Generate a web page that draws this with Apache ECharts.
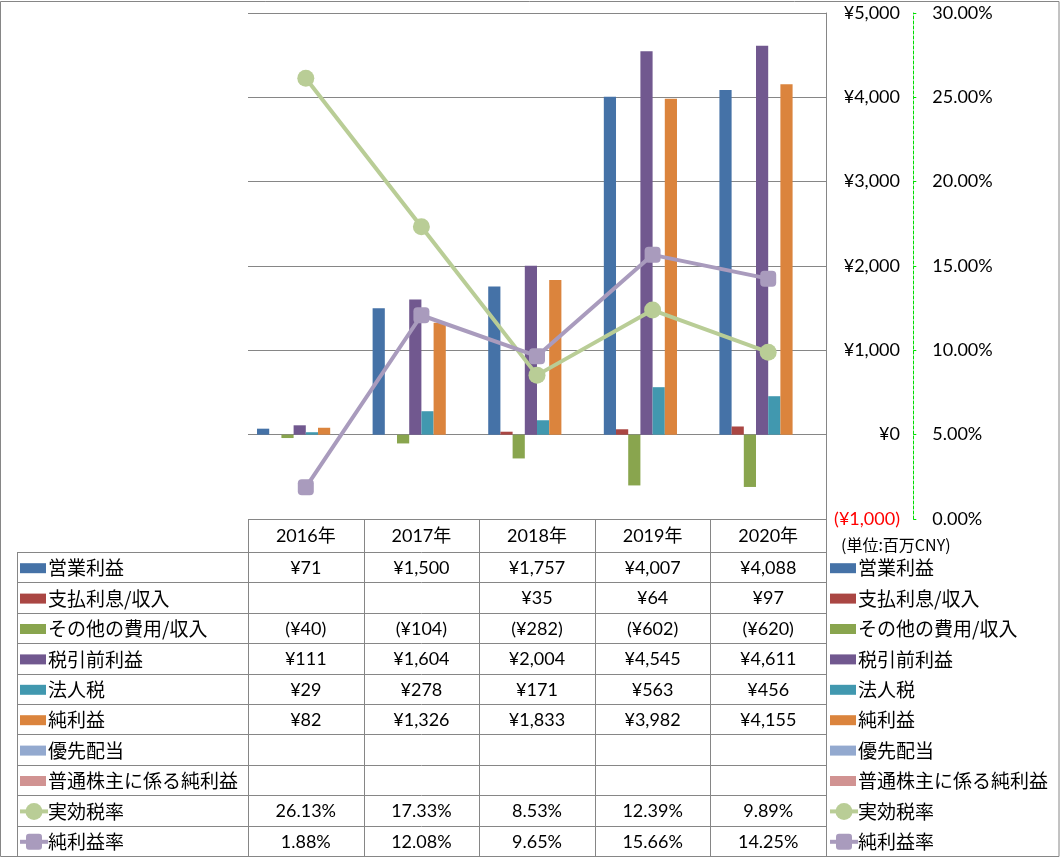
<!DOCTYPE html>
<html><head><meta charset="utf-8">
<script src="https://cdn.jsdelivr.net/npm/echarts@6/dist/echarts.min.js"></script>
<style>html,body{margin:0;padding:0;background:#fff}#c{width:1061px;height:858px}</style>
</head><body><div id="c"></div>
<script>
// ---- data ----
const categories = ['2016年','2017年','2018年','2019年','2020年'];
const operatingIncome = [71,1500,1757,4007,4088];
const interestExpense = [null,null,35,64,97];
const otherExpense = [-40,-104,-282,-602,-620];
const pretaxIncome = [111,1604,2004,4545,4611];
const incomeTax = [29,278,171,563,456];
const netIncome = [82,1326,1833,3982,4155];
const preferredDividends = [null,null,null,null,null];
const netIncomeCommon = [null,null,null,null,null];
const effectiveTaxRate = [26.13,17.33,8.53,12.39,9.89];
const netMargin = [1.88,12.08,9.65,15.66,14.25];
const seriesNames = ['営業利益','支払利息/収入','その他の費用/収入','税引前利益','法人税','純利益','優先配当','普通株主に係る純利益','実効税率','純利益率'];
const unitLabel = '(単位:百万CNY)';
const yenAxis = {min:-1000, max:5000, interval:1000};
const pctAxis = {min:0, max:30, interval:5};

// ---- styles ----
const colors = ['#4572A7','#AA4643','#89A54E','#71588F','#4198AF','#DB843D','#93A9CF','#D19392','#B9CD96','#A99BBD'];
const NUM_FONT = "Lato, 'Noto Sans CJK JP', sans-serif";
const JP_FONT = "'Noto Sans CJK JP', sans-serif";
const GRID_COLOR = '#868686';

function commas(n){ return String(Math.round(Math.abs(n))).replace(/\B(?=(\d{3})+(?!\d))/g, ','); }
function yen(v){ if(v===null||v===undefined) return ''; return v<0 ? '(¥'+commas(v)+')' : '¥'+commas(v); }
function pct(v){ if(v===null||v===undefined) return ''; return v.toFixed(2)+'%'; }

const barData = [operatingIncome, interestExpense, otherExpense, pretaxIncome, incomeTax, netIncome, preferredDividends, netIncomeCommon];
const lineData = [effectiveTaxRate, netMargin];
const rowData = barData.concat(lineData);
const rowFmt = [yen,yen,yen,yen,yen,yen,yen,yen,pct,pct];

const chart = echarts.init(document.getElementById('c'), null, {renderer:'canvas'});

const series = [];
barData.forEach((d,i)=>{
  series.push({name:seriesNames[i], type:'bar', xAxisIndex:0, yAxisIndex:0, data:d,
    barGap:'0%', barCategoryGap:'15.6%', itemStyle:{color:colors[i]}, animation:false});
});
lineData.forEach((d,i)=>{
  series.push({name:seriesNames[8+i], type:'line', xAxisIndex:0, yAxisIndex:1, data:d,
    symbol: i===0 ? 'circle' : 'roundRect', symbolSize: i===0 ? 17 : 16,
    lineStyle:{color:colors[8+i], width:4}, itemStyle:{color:colors[8+i]}, z:5, animation:false});
});

const option = {
  animation:false,
  backgroundColor:'#fff',
  grid:{left:248, top:13, width:578, height:506},
  xAxis:{type:'category', data:categories, show:false, boundaryGap:true},
  yAxis:[
    {type:'value', position:'right', min:yenAxis.min, max:yenAxis.max, interval:yenAxis.interval,
      axisLine:{show:true, lineStyle:{color:GRID_COLOR, width:1}},
      axisTick:{show:false},
      splitLine:{show:true, lineStyle:{color:GRID_COLOR, width:1}},
      axisLabel:{margin:74, align:'right', fontFamily:NUM_FONT, fontSize:18, color:'#000',
        formatter:v=> v<0 ? '{neg|'+yen(v)+'}' : yen(v),
        rich:{neg:{color:'#FF0000', fontFamily:NUM_FONT, fontSize:18}}}
    },
    {type:'value', position:'right', offset:87.3, min:pctAxis.min, max:pctAxis.max, interval:pctAxis.interval,
      axisLine:{show:true, lineStyle:{color:'#00DD00', width:1, type:[3,2]}},
      axisTick:{show:true, inside:false, length:3, lineStyle:{color:'#00DD00'}},
      splitLine:{show:false},
      axisLabel:{margin:19, fontFamily:NUM_FONT, fontSize:18, color:'#000', formatter:v=>pct(v)}
    }
  ],
  series:series
};
chart.setOption(option);

// ---- data table & legends ----
const tableTop = 519, headerBottom = 552, rowH = 30.4, tableLeft = 17, legendRight = 248, plotRight = 826;
const colX = categories.map((c)=> chart.convertToPixel({xAxisIndex:0}, c));
const colW = (plotRight - legendRight)/categories.length;
const bottom = headerBottom + rowH*rowData.length;
const g = [];
function hline(x1,x2,y){ g.push({type:'line', silent:true, shape:{x1:x1,y1:Math.round(y)+0.5,x2:x2,y2:Math.round(y)+0.5}, style:{stroke:GRID_COLOR, lineWidth:1}, z:10}); }
function vline(x,y1,y2){ g.push({type:'line', silent:true, shape:{x1:Math.round(x)+0.5,y1:y1,x2:Math.round(x)+0.5,y2:y2}, style:{stroke:GRID_COLOR, lineWidth:1}, z:10}); }
function text(t,x,y,font,size,align,color){ g.push({type:'text', silent:true, x:x, y:y, style:{text:t, fontFamily:font, fontSize:size, fill:color||'#000', align:align||'center', verticalAlign:'middle'}, z:11}); }

// outer border
g.push({type:'rect', silent:true, shape:{x:0.5,y:1.5,width:1058.5,height:855}, style:{fill:'none', stroke:GRID_COLOR, lineWidth:1}, z:10});
// horizontal rules
for(let r=0;r<=rowData.length;r++){ hline(tableLeft, plotRight, headerBottom + r*rowH); }
// vertical rules
vline(tableLeft, headerBottom, bottom);
for(let c=0;c<=categories.length;c++){ vline(legendRight + c*colW, tableTop, bottom); }
// header
categories.forEach((c,i)=> text(c, colX[i], (tableTop+headerBottom)/2+1, NUM_FONT, 18));
// rows
function legendKey(i, x0, yc){
  if(i<8){
    g.push({type:'rect', silent:true, shape:{x:x0, y:yc-5, width:26, height:10}, style:{fill:colors[i]}, z:11});
  } else {
    g.push({type:'line', silent:true, shape:{x1:x0, y1:yc, x2:x0+28, y2:yc}, style:{stroke:colors[i], lineWidth:4}, z:11});
    if(i===8) g.push({type:'circle', silent:true, shape:{cx:x0+14, cy:yc, r:8.5}, style:{fill:colors[i]}, z:12});
    else g.push({type:'rect', silent:true, shape:{x:x0+6, y:yc-8, width:16, height:16, r:3}, style:{fill:colors[i]}, z:12});
  }
}
rowData.forEach((d,r)=>{
  const yc = headerBottom + r*rowH + rowH/2 + 1;
  legendKey(r, tableLeft+3, yc);
  text(seriesNames[r], tableLeft+31, yc, JP_FONT, 19, 'left');
  d.forEach((v,i)=> text(rowFmt[r](v), colX[i], yc, NUM_FONT, 18));
  // right legend
  legendKey(r, plotRight+4, yc);
  text(seriesNames[r], plotRight+32, yc, JP_FONT, 19, 'left');
});
text(unitLabel, 841, 545, JP_FONT, 16, 'left');
chart.setOption({graphic:{elements:g}});
</script>
</body></html>
